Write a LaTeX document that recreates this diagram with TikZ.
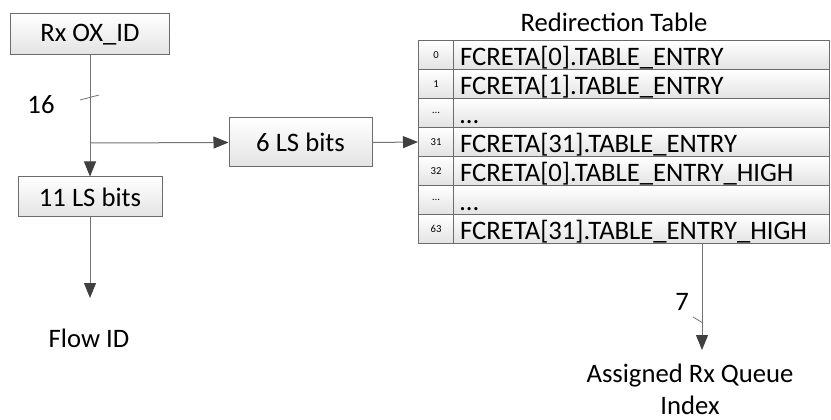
\documentclass[tikz,border=0pt]{standalone}
\usepackage{fontspec}
\setmainfont{Carlito}
\usetikzlibrary{arrows.meta}

\tikzset{
  block/.style={draw=gray!85!black, line width=0.75pt, top color=white, bottom color=gray!22,
    inner sep=0pt, font=\fontsize{20}{24}\selectfont},
  cellno/.style={block, anchor=north west, minimum width=26.25pt, minimum height=21.75pt,
    font=\fontsize{8}{9}\selectfont},
  cellentry/.style={block, anchor=north west, minimum height=21.75pt, inner xsep=5pt,
    text width=272pt, align=left, text height=16pt, text depth=0pt},
  lbl/.style={font=\fontsize{20}{24}\selectfont, inner sep=0pt},
  wire/.style={draw=gray!90!black, line width=0.75pt},
  link/.style={wire, -{Triangle[length=11.25pt,width=9pt,color=black!75]}},
  busmark/.style={draw=gray!90!black, line width=0.6pt}
}

\begin{document}
\begin{tikzpicture}[x=0.75pt,y=-0.75pt]
  \useasboundingbox (0,0) rectangle (831,420);
  % blocks on the left
  \node[block, minimum width=119.25pt, minimum height=30.75pt] (rxid) at (90,34.5) {Rx OX\_ID};
  \node[block, minimum width=108pt, minimum height=30pt] (lsb11) at (90,197) {11 LS bits};
  \node[block, minimum width=107.25pt, minimum height=36.75pt] (lsb6) at (300.5,142.5) {6 LS bits};
  \coordinate (split) at (90,143);
  \coordinate (flowin) at (90,298);
  \node[lbl, anchor=north] (flow) at (89,329) {Flow ID};
  % redirection table
  \node[lbl] (title) at (614,22) {Redirection Table};
  \foreach \no/\entry [count=\i from 0] in {0/FCRETA[0].TABLE\_ENTRY, 1/FCRETA[1].TABLE\_ENTRY,
      \ldots/\ldots, 31/FCRETA[31].TABLE\_ENTRY, 32/FCRETA[0].TABLE\_ENTRY\_HIGH,
      \ldots/\ldots, 63/FCRETA[31].TABLE\_ENTRY\_HIGH}
  {
    \node[cellno] (no\i) at (418,{40+29*\i}) {\no};
    \node[cellentry] (ent\i) at (453,{40+29*\i}) {\entry};
  }
  \coordinate (qout) at (702,243);
  \coordinate (qin) at (702,350);
  \node[lbl, align=center, anchor=north] (queue) at (690,364) {Assigned Rx Queue\\Index};
  % connectors
  \draw[wire] (rxid.south) -- (split);
  \draw[link] (split) -- (lsb11.north);
  \draw[link] (split) -- (lsb6.west);
  \draw[link] (lsb6.east) -- (no3.west);
  \draw[link] (lsb11.south) -- (flowin);
  \draw[link] (qout) -- (qin);
  % bus widths
  \draw[busmark] (80,100) -- (99,95);
  \node[lbl] (w16) at (41,105) {16};
  \draw[busmark] (693,317) -- (703,323);
  \node[lbl] (w7) at (682,302) {7};
\end{tikzpicture}
\end{document}
